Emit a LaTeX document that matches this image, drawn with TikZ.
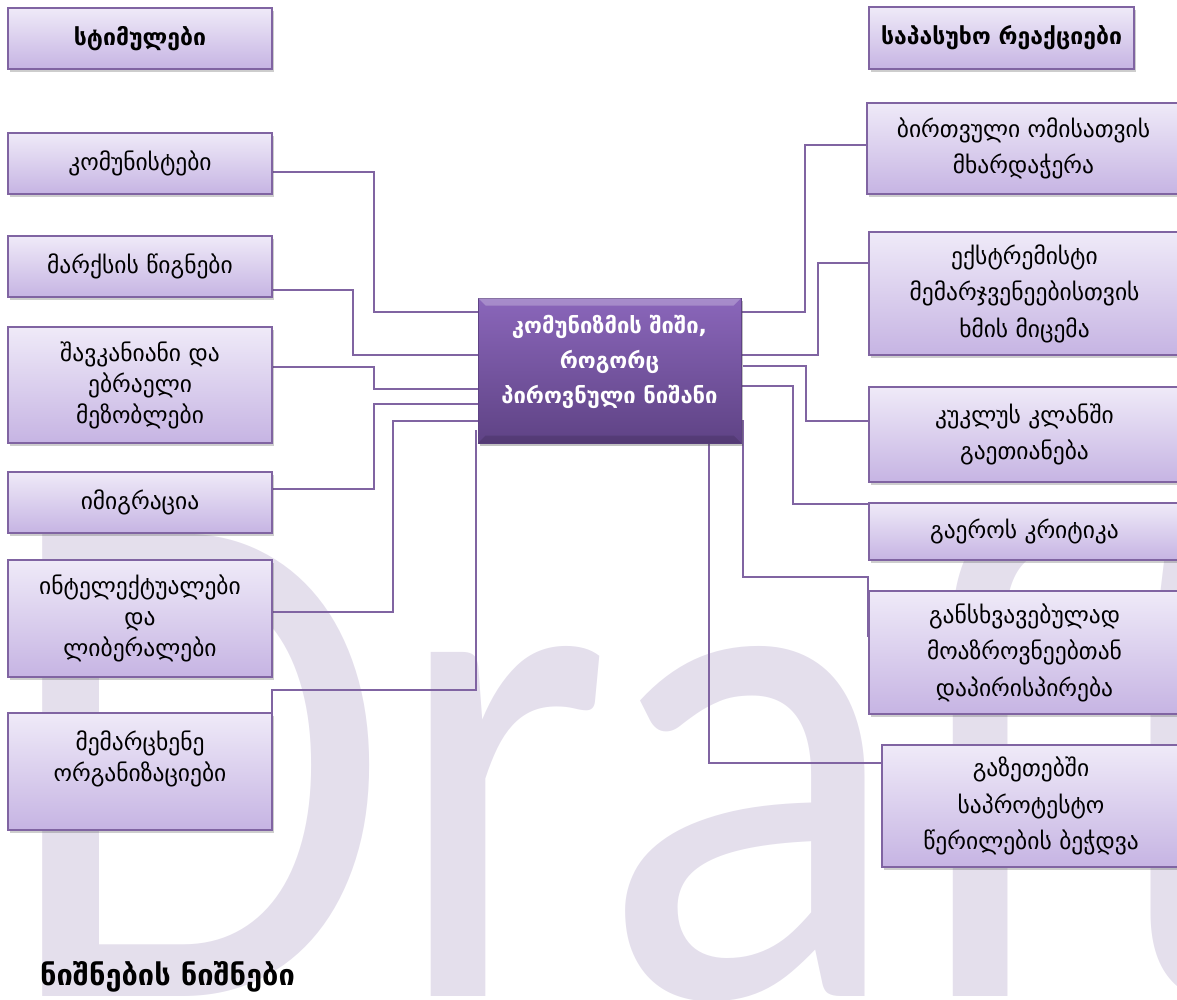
\documentclass[tikz,border=0pt]{standalone}
\usepackage{fontspec}
\setmainfont{DejaVu Sans}
\newfontfamily\wmfont{Carlito}
\usetikzlibrary{shadows}
\definecolor{bordc}{HTML}{8064A2}
\definecolor{topc}{HTML}{EFEAF8}
\definecolor{botc}{HTML}{C6B4E3}
\definecolor{ctop}{HTML}{8A66BA}
\definecolor{cbot}{HTML}{5F4385}
\definecolor{wmc}{HTML}{E4DFEC}
\tikzset{
  leafbox/.style={draw=bordc, line width=1.4pt, top color=topc, bottom color=botc,
    inner sep=0pt, text=black, align=center,
    drop shadow={shadow xshift=1.5pt, shadow yshift=-3pt, opacity=0.28, fill=black!70}},
  lfont/.style={font=\fontsize{23.5}{31}\selectfont},
  rfont/.style={font=\fontsize{23.5}{36.5}\selectfont},
  hfont/.style={font=\fontsize{23}{26}\selectfont\bfseries},
  centerbox/.style={draw=cbot, line width=1pt, top color=ctop, bottom color=cbot,
    inner sep=0pt,
    drop shadow={shadow xshift=1.5pt, shadow yshift=-3pt, opacity=0.35, fill=black!70}},
  ctext/.style={inner sep=0pt, align=center, text=white, font=\fontsize{22}{35}\selectfont\bfseries},
  conn/.style={draw=bordc, line width=1.3pt},
}
\begin{document}
\begin{tikzpicture}[x=1pt,y=-1pt]
\useasboundingbox (0,0) rectangle (1177,999);
% watermark
\node[anchor=base west, inner sep=0pt, text=wmc] (wm) at (-1,996)
  {\scalebox{1}[1.133]{\wmfont\fontsize{636}{636}\selectfont Draf\kern0pt t}};

% connectors (left)
\draw[conn] (272,172) coordinate (s1) -- (374,172) -- (374,312) -- (478,312) coordinate (e1);
\draw[conn] (272,290) coordinate (s2) -- (353,290) -- (353,355) -- (478,355) coordinate (e2);
\draw[conn] (272,367) coordinate (s3) -- (374,367) -- (374,389) -- (478,389) coordinate (e3);
\draw[conn] (272,489) coordinate (s4) -- (374,489) -- (374,404) -- (478,404) coordinate (e4);
\draw[conn] (272,612) coordinate (s5) -- (393,612) -- (393,421) -- (486,421) coordinate (e5);
\draw[conn] (272,713) coordinate (s6) -- (272,690) -- (476,690) -- (476,430) coordinate (e6);
% connectors (right)
\draw[conn] (741,312) coordinate (t1) -- (805,312) -- (805,145) -- (867,145) coordinate (f1);
\draw[conn] (741,355) coordinate (t2) -- (818,355) -- (818,263) -- (869,263) coordinate (f2);
\draw[conn] (743,366) coordinate (t3) -- (806,366) -- (806,421) -- (869,421) coordinate (f3);
\draw[conn] (741,386) coordinate (t4) -- (793,386) -- (793,504) -- (884,504) coordinate (f4);
\draw[conn] (743,420) coordinate (t5) -- (743,577) -- (868,577) -- (868,637) coordinate (f5);
\draw[conn] (709,443) coordinate (t6) -- (709,763) -- (882,763) coordinate (f6);

% left boxes
\node[leafbox, hfont, minimum width=264pt, minimum height=61pt] (h1) at (140,38.5) {სტიმულები};
\node[leafbox, lfont, minimum width=264pt, minimum height=61pt] (l1) at (140,163.5) {კომუნისტები};
\node[leafbox, lfont, minimum width=264pt, minimum height=61pt] (l2) at (140,266.5) {მარქსის წიგნები};
\node[leafbox, lfont, minimum width=264pt, minimum height=116pt] (l3) at (140,385) {შავკანიანი და\\ებრაელი\\მეზობლები};
\node[leafbox, lfont, minimum width=264pt, minimum height=61pt] (l4) at (140,502.5) {იმიგრაცია};
\node[leafbox, lfont, minimum width=264pt, minimum height=117pt] (l5) at (140,618.5) {ინტელექტუალები\\და\\ლიბერალები};
\node[leafbox, lfont, minimum width=264pt, minimum height=117pt] (l6) at (140,771.5) {მემარცხენე\\ორგანიზაციები\\\mbox{}};

% right boxes
\node[leafbox, hfont, minimum width=265pt, minimum height=62pt] (h2) at (1001.5,38) {საპასუხო რეაქციები};
\node[leafbox, rfont, minimum width=313pt, minimum height=91pt] (r1) at (1023.5,148.5) {ბირთვული ომისათვის\\მხარდაჭერა};
\node[leafbox, rfont, minimum width=311pt, minimum height=123pt] (r2) at (1024.5,293.5) {ექსტრემისტი\\მემარჯვენეებისთვის\\ხმის მიცემა};
\node[leafbox, rfont, minimum width=311pt, minimum height=95pt] (r3) at (1024.5,434.5) {კუკლუს კლანში\\გაეთიანება};
\node[leafbox, rfont, minimum width=311pt, minimum height=57pt] (r4) at (1024.5,531.5) {გაეროს კრიტიკა};
\node[leafbox, rfont, minimum width=311pt, minimum height=123pt] (r5) at (1024.5,652.5) {განსხვავებულად\\მოაზროვნეებთან\\დაპირისპირება};
\node[leafbox, rfont, minimum width=298pt, minimum height=122pt] (r6) at (1031,806) {გაზეთებში\\საპროტესტო\\წერილების ბეჭდვა};

% center
\node[centerbox, minimum width=263pt, minimum height=145pt] (c) at (609.5,370.5) {};
\fill[white, opacity=0.25] (c.north west) -- (c.north east) -- ([xshift=-8pt,yshift=-8pt]c.north east) -- ([xshift=8pt,yshift=-8pt]c.north west) -- cycle;
\fill[black, opacity=0.12] (c.south west) -- (c.south east) -- ([xshift=-8pt,yshift=8pt]c.south east) -- ([xshift=8pt,yshift=8pt]c.south west) -- cycle;
\node[ctext] (ct) at (609.5,362) {კომუნიზმის შიში,\\როგორც\\პიროვნული ნიშანი};

% caption
\node[anchor=west, inner sep=0pt, font=\fontsize{29}{32}\selectfont\bfseries] (cap) at (40,977) {ნიშნების ნიშნები};
\end{tikzpicture}
\end{document}
